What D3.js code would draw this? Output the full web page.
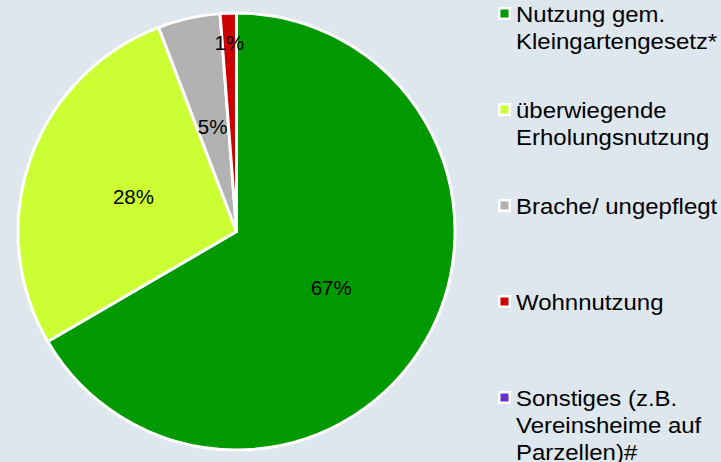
<!DOCTYPE html>
<html>
<head>
<meta charset="utf-8">
<script src="https://cdn.jsdelivr.net/npm/d3@7"></script>
<style>
  html, body { margin: 0; padding: 0; background: #dfe7ee; }
  svg { display: block; font-family: "Liberation Sans", Arial, sans-serif; }
</style>
</head>
<body>
<svg id="chart" width="721" height="462"></svg>
<script>
const categories = [
  "Nutzung gem. Kleingartengesetz*",
  "überwiegende Erholungsnutzung",
  "Brache/ ungepflegt",
  "Wohnnutzung",
  "Sonstiges (z.B. Vereinsheime auf Parzellen)#"
];
const legendLines = [
  ["Nutzung gem.", "Kleingartengesetz*"],
  ["überwiegende", "Erholungsnutzung"],
  ["Brache/ ungepflegt"],
  ["Wohnnutzung"],
  ["Sonstiges (z.B.", "Vereinsheime auf", "Parzellen)#"]
];
const values = [66.6, 27.6, 4.6, 1.2, 0];
const colors = ["#009900", "#ccff33", "#b2b2b2", "#cc0000", "#6633cc"];

const W = 721, H = 462;
const cx = 236.5, cy = 231.5, R = 218.5;

const svg = d3.select("#chart");
svg.append("rect").attr("width", W).attr("height", H).attr("fill", "#dfe7ee");

const data = categories.map((c, i) => ({ name: c, value: values[i], color: colors[i] }));
const pie = d3.pie().value(d => d.value).sort(null);
const arcs = pie(data);
const arc = d3.arc().innerRadius(0).outerRadius(R);
const labelArc = d3.arc().innerRadius(R * 0.5).outerRadius(R * 0.5);
const labelArcOuter = d3.arc().innerRadius(R * 0.87).outerRadius(R * 0.87);

const g = svg.append("g").attr("transform", `translate(${cx},${cy})`);
g.selectAll("path.slice").data(arcs.filter(a => a.data.value > 0)).join("path")
  .attr("class", "slice")
  .attr("d", arc)
  .attr("fill", d => d.data.color)
  .attr("stroke", "#ffffff")
  .attr("stroke-width", 3)
  .attr("stroke-linejoin", "round");

const total = d3.sum(values);
g.selectAll("text.lbl").data(arcs.filter(a => a.data.value > 0)).join("text")
  .attr("class", "lbl")
  .attr("transform", d => {
    const pct = d.data.value / total;
    const c = (pct < 0.02 ? labelArcOuter : labelArc).centroid(d);
    return `translate(${c[0]},${c[1] + 1.5})`;
  })
  .attr("text-anchor", "middle")
  .attr("dy", "0.35em")
  .attr("font-size", "20.5px")
  .attr("fill", "#000")
  .text(d => Math.round(d.data.value / total * 100) + "%");

// Legend
const legY = d3.scaleLinear().domain([0, 4]).range([13.5, 397.5]);
const leg = svg.append("g");
const items = leg.selectAll("g.item").data(data).join("g")
  .attr("class", "item")
  .attr("transform", (d, i) => `translate(0,${legY(i)})`);
items.append("rect")
  .attr("x", 498).attr("y", -6.5).attr("width", 13).attr("height", 13)
  .attr("fill", "#ffffff");
items.append("rect")
  .attr("x", 500.5).attr("y", -4).attr("width", 8).attr("height", 8)
  .attr("fill", d => d.color);
items.append("g")
  .attr("transform", "translate(516,8.5) scale(1.09,1)")
  .append("text")
  .attr("x", 0)
  .attr("y", 0)
  .attr("font-size", "22px")
  .attr("fill", "#000")
  .selectAll("tspan").data((d, i) => legendLines[i]).join("tspan")
  .attr("x", 0)
  .attr("dy", (d, j) => j === 0 ? 0 : 27)
  .text(d => d);
</script>
</body>
</html>
